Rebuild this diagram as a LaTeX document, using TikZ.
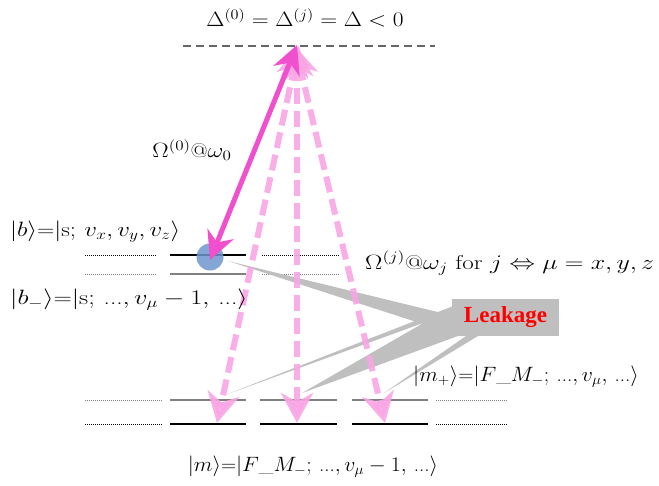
\documentclass[tikz,border=0pt]{standalone}
\usepackage{amsmath}
\usepackage{graphicx}
\usepackage{fontspec}
\newfontfamily\leakfont{Liberation Serif}
\usetikzlibrary{arrows.meta}
\definecolor{mag}{RGB}{240,80,205}
\definecolor{lpink}{RGB}{249,165,228}
\definecolor{leakgray}{RGB}{191,191,191}
\definecolor{dotblue}{RGB}{110,150,205}
\newcommand{\dts}{\text{...}}
\begin{document}
\begin{tikzpicture}[x=1pt,y=-1pt,
  lab/.style={inner sep=0pt,font=\fontsize{20}{24}\selectfont},
  blev/.style={line width=2pt,black},
  glev/.style={line width=2pt,gray},
  bdot/.style={line width=1pt,black,dash pattern=on 1pt off 1pt},
  gdot/.style={line width=1pt,gray,dash pattern=on 1pt off 1pt},
  pumparrow/.style={line width=5pt,mag,{Stealth[length=28pt,width=28pt,inset=9pt]}-{Stealth[length=28pt,width=28pt,inset=9pt]}},
  decayarrow/.style={line width=6pt,lpink,opacity=0.9,dash pattern=on 16pt off 7pt,{Stealth[length=30pt,width=32pt,inset=9pt]}-{Stealth[length=30pt,width=32pt,inset=9pt]}},
  wedge/.style={fill=leakgray,draw=none},
  leakbox/.style={fill=leakgray,minimum width=107pt,minimum height=37pt,inner sep=0pt,font=\leakfont\fontsize{23}{26}\selectfont\bfseries,text=red}]
\useasboundingbox (0,0) rectangle (659,485);

% top virtual level
\node[lab] (delta) at (305,18) {\scalebox{1.13}[1]{$\Delta^{(0)}=\Delta^{(j)}=\Delta<0$}};
\draw[line width=1.5pt,gray!80!black,dash pattern=on 8pt off 5pt] (183,46) -- (435,46);

% upper levels |b>, |b->
\draw[bdot] (85,255) -- (157,255);
\draw[blev] (170,255) -- (246,255);
\draw[bdot] (262,255) -- (340,255);
\draw[gdot] (85,274) -- (157,274);
\draw[glev] (170,274) -- (246,274);
\draw[gdot] (262,274) -- (340,274);

% lower levels |m+>, |m>
\draw[gdot] (85,400) -- (162,400);
\draw[glev] (170,400) -- (246,400);
\draw[glev] (260,400) -- (337,400);
\draw[glev] (352,400) -- (428,400);
\draw[gdot] (436,400) -- (507,400);
\draw[bdot] (85,424) -- (162,424);
\draw[blev] (170,424) -- (246,424);
\draw[blev] (260,424) -- (337,424);
\draw[blev] (352,424) -- (428,424);
\draw[bdot] (436,424) -- (507,424);

% leakage wedges and box
\coordinate (leakc) at (505.5,317.5);
\coordinate (lw) at (452,317.5);
\coordinate (lsw) at (452,336);
\coordinate (lb) at (228,261);
\coordinate (lm1) at (225,395);
\coordinate (lm2) at (302,393);
\coordinate (lm3) at (384,393);
\fill[wedge] (lb) -- ([yshift=-16pt]lw) -- ([yshift=2pt]lw) -- cycle;
\fill[wedge] (lm1) -- ([yshift=5pt]lw) -- ([yshift=11pt]lw) -- cycle;
\fill[wedge] (lm2) -- ([yshift=11pt]lw) -- ([xshift=6pt]lsw) -- cycle;
\fill[wedge] (lm3) -- ([xshift=14pt]lsw) -- ([xshift=26pt]lsw) -- cycle;
\node[leakbox] (leak) at (leakc) {Leakage};

% atom
\node[circle,fill=dotblue,opacity=0.85,minimum size=27pt,inner sep=0pt] (atom) at (210,257) {};

% arrows
\coordinate (virt) at (297,46);
\coordinate (mA) at (217,423);
\coordinate (mB) at (297,423);
\coordinate (mC) at (385,423);
\draw[decayarrow] ([xshift=2pt]virt) -- (mA);
\draw[decayarrow] (virt) -- (mB);
\draw[decayarrow] ([xshift=-2pt]virt) -- (mC);
\draw[pumparrow] ([yshift=1pt]virt) -- ([yshift=-3pt]atom.center);

% labels
\node[lab] (om0) at (192,150) {\scalebox{1.18}[1]{$\Omega^{(0)}$@$\omega_0$}};
\node[lab,anchor=west] (blab) at (10,232) {\scalebox{1.2}[1]{$|b\rangle$=$|\mathrm{s};\,v_x,v_y,v_z\rangle$}};
\node[lab,anchor=west] (bmlab) at (10,300) {\scalebox{1.27}[1]{$|b_-\rangle$=$|\mathrm{s};\,\dts,v_\mu-1,\,\dts\rangle$}};
\node[lab,anchor=west] (omj) at (365,263) {\scalebox{1.25}[1]{$\Omega^{(j)}$@$\omega_j$ for $j\Leftrightarrow\mu=x,y,z$}};
\node[lab,anchor=west] (mplab) at (413,377) {\scalebox{1.05}[1]{$|m_+\rangle$=$|F$\_$M_-;\,\dts,v_\mu,\,\dts\rangle$}};
\node[lab] (mlab) at (313,467) {\scalebox{1.05}[1]{$|m\rangle$=$|F$\_$M_-;\,\dts,v_\mu-1,\,\dts\rangle$}};
\end{tikzpicture}
\end{document}
